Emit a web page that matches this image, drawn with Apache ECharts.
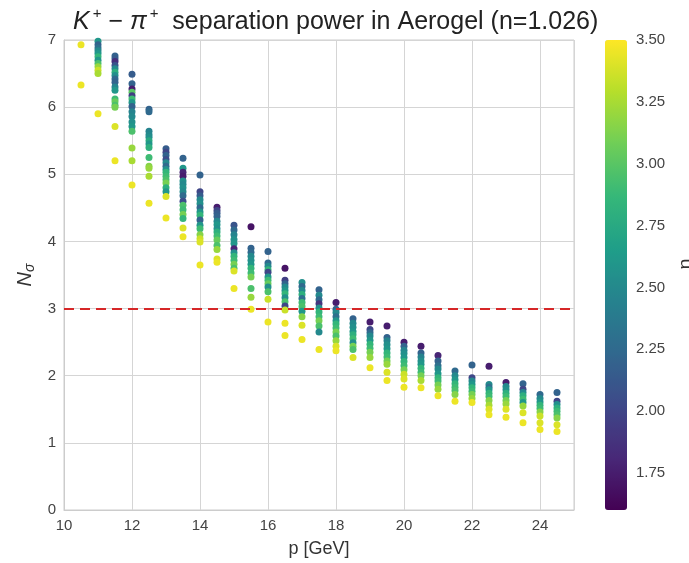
<!DOCTYPE html>
<html>
<head>
<meta charset="utf-8">
<script src="https://cdn.jsdelivr.net/npm/echarts@6/dist/echarts.min.js"></script>
<style>html,body{margin:0;padding:0;background:#fff}#c{width:689px;height:563px}</style>
</head>
<body>
<div id="c"></div>
<script>
// momentum columns (GeV)
const pColumns = [10.5, 11, 11.5, 12, 12.5, 13, 13.5, 14, 14.5, 15, 15.5, 16, 16.5, 17, 17.5, 18, 18.5, 19, 19.5, 20, 20.5, 21, 21.5, 22, 22.5, 23, 23.5, 24, 24.5];
// N_sigma values per column
const nsigmaByColumn = [
  [6.93, 6.33],
  [6.98, 6.93, 6.88, 6.84, 6.80, 6.75, 6.70, 6.65, 6.60, 6.55, 6.50, 5.90],
  [6.76, 6.72, 6.68, 6.62, 6.57, 6.52, 6.47, 6.42, 6.37, 6.30, 6.25, 6.12, 6.08, 6.03, 6.00, 5.71, 5.20],
  [6.49, 6.35, 6.27, 6.22, 6.17, 6.12, 6.07, 6.01, 5.93, 5.86, 5.78, 5.71, 5.64, 5.39, 5.20, 4.84],
  [5.97, 5.93, 5.64, 5.59, 5.55, 5.50, 5.45, 5.40, 5.25, 5.12, 5.09, 4.97, 4.57],
  [5.38, 5.33, 5.28, 5.22, 5.17, 5.12, 5.07, 5.03, 4.97, 4.92, 4.87, 4.80, 4.74, 4.67, 4.35],
  [5.24, 5.09, 5.03, 4.97, 4.90, 4.85, 4.80, 4.74, 4.68, 4.60, 4.54, 4.47, 4.40, 4.34, 4.20, 4.07],
  [4.99, 4.74, 4.68, 4.62, 4.56, 4.50, 4.44, 4.39, 4.32, 4.24, 4.19, 4.10, 4.04, 3.99, 3.65],
  [4.51, 4.46, 4.42, 4.37, 4.30, 4.25, 4.19, 4.14, 4.08, 4.02, 3.94, 3.88, 3.74, 3.69],
  [4.24, 4.17, 4.10, 4.03, 3.97, 3.89, 3.83, 3.78, 3.72, 3.66, 3.60, 3.56, 3.30],
  [4.22, 3.90, 3.84, 3.78, 3.72, 3.66, 3.60, 3.53, 3.47, 3.30, 3.17, 2.99],
  [3.85, 3.68, 3.63, 3.58, 3.54, 3.47, 3.42, 3.37, 3.32, 3.25, 3.14, 2.80],
  [3.60, 3.42, 3.37, 3.32, 3.27, 3.22, 3.16, 3.10, 3.04, 2.98, 2.78, 2.60],
  [3.39, 3.33, 3.27, 3.21, 3.15, 3.09, 3.03, 2.96, 2.88, 2.75, 2.54],
  [3.28, 3.20, 3.13, 3.07, 3.01, 2.95, 2.88, 2.82, 2.74, 2.65, 2.39],
  [3.09, 2.99, 2.94, 2.88, 2.82, 2.77, 2.71, 2.65, 2.59, 2.52, 2.44, 2.37],
  [2.85, 2.78, 2.72, 2.66, 2.61, 2.55, 2.49, 2.44, 2.39, 2.27],
  [2.80, 2.69, 2.64, 2.59, 2.53, 2.47, 2.41, 2.35, 2.27, 2.12],
  [2.74, 2.57, 2.52, 2.46, 2.40, 2.34, 2.28, 2.22, 2.17, 2.05, 1.93],
  [2.50, 2.44, 2.38, 2.33, 2.27, 2.21, 2.15, 2.09, 2.02, 1.95, 1.83],
  [2.44, 2.34, 2.28, 2.22, 2.17, 2.11, 2.05, 2.00, 1.93, 1.82],
  [2.30, 2.22, 2.15, 2.10, 2.03, 1.97, 1.92, 1.86, 1.80, 1.70],
  [2.07, 2.00, 1.94, 1.88, 1.83, 1.78, 1.72, 1.62],
  [2.16, 1.97, 1.92, 1.87, 1.82, 1.77, 1.72, 1.66, 1.60],
  [2.14, 1.87, 1.83, 1.79, 1.74, 1.69, 1.63, 1.56, 1.50, 1.42],
  [1.90, 1.84, 1.79, 1.74, 1.69, 1.63, 1.58, 1.50, 1.38],
  [1.88, 1.80, 1.75, 1.70, 1.65, 1.60, 1.55, 1.45, 1.30],
  [1.72, 1.66, 1.61, 1.56, 1.51, 1.46, 1.40, 1.30, 1.20],
  [1.75, 1.62, 1.57, 1.52, 1.47, 1.42, 1.37, 1.27, 1.17]
];
// eta (colour) values per column
const etaByColumn = [
  [3.45, 3.45],
  [2.60, 2.20, 2.30, 2.50, 2.60, 2.85, 2.60, 2.95, 3.20, 3.35, 3.25, 3.45],
  [2.20, 2.15, 1.85, 2.10, 2.50, 2.80, 2.55, 2.25, 2.20, 2.45, 2.60, 2.90, 3.05, 2.95, 3.10, 3.40, 3.45],
  [2.15, 2.20, 1.75, 3.00, 1.95, 2.90, 2.60, 2.20, 2.45, 2.50, 2.55, 2.60, 2.95, 3.20, 3.25, 3.45],
  [2.20, 2.25, 2.45, 2.50, 2.55, 2.75, 2.60, 2.80, 2.90, 3.15, 3.20, 3.25, 3.45],
  [2.15, 2.00, 2.20, 2.05, 2.50, 2.25, 2.55, 2.85, 2.90, 2.95, 3.10, 2.80, 2.60, 3.40, 3.45],
  [2.20, 2.60, 1.80, 1.75, 2.55, 2.50, 2.55, 2.50, 2.25, 2.05, 2.95, 2.90, 3.10, 2.85, 3.40, 3.45],
  [2.20, 2.00, 2.15, 2.50, 2.55, 2.25, 2.60, 2.85, 2.20, 2.60, 2.90, 3.15, 3.35, 3.40, 3.45],
  [1.75, 2.00, 2.15, 2.20, 2.50, 2.60, 2.55, 2.80, 2.90, 3.05, 2.95, 3.20, 3.40, 3.45],
  [2.10, 2.25, 2.45, 2.55, 2.60, 1.80, 2.55, 2.85, 2.90, 3.10, 2.95, 3.40, 3.45],
  [1.70, 2.20, 2.25, 2.50, 2.55, 2.60, 2.85, 2.90, 3.10, 2.95, 3.20, 3.45],
  [2.20, 2.25, 2.50, 2.85, 2.00, 2.60, 2.90, 3.05, 2.55, 2.95, 3.35, 3.45],
  [1.70, 1.95, 2.20, 2.50, 2.60, 2.85, 2.55, 2.95, 2.00, 3.35, 3.45, 3.45],
  [2.55, 2.25, 2.50, 2.80, 2.30, 2.90, 2.95, 2.60, 3.15, 3.40, 3.45],
  [2.20, 2.50, 2.25, 1.90, 2.55, 2.85, 2.90, 3.10, 2.95, 2.50, 3.45],
  [1.75, 2.20, 2.50, 2.30, 2.60, 2.85, 2.90, 3.10, 2.95, 3.20, 3.40, 3.45],
  [2.20, 2.50, 2.55, 2.60, 2.80, 2.90, 2.55, 3.10, 2.95, 3.40],
  [1.75, 2.00, 2.25, 2.50, 2.60, 2.85, 2.90, 3.10, 3.20, 3.45],
  [1.75, 2.20, 2.45, 2.55, 2.60, 2.85, 2.90, 3.10, 3.20, 3.40, 3.45],
  [1.75, 2.20, 2.45, 2.55, 2.60, 2.85, 2.90, 3.10, 3.35, 3.40, 3.45],
  [1.75, 2.20, 2.45, 2.55, 2.60, 2.85, 2.90, 3.10, 3.25, 3.45],
  [1.80, 2.20, 2.30, 2.50, 2.60, 2.85, 2.90, 3.10, 3.20, 3.45],
  [2.25, 2.50, 2.60, 2.85, 2.90, 2.95, 3.15, 3.45],
  [2.20, 2.00, 2.50, 2.60, 2.85, 2.90, 3.10, 3.20, 3.45],
  [1.75, 2.50, 2.30, 2.60, 2.85, 2.90, 3.15, 3.25, 3.40, 3.45],
  [1.75, 2.50, 2.55, 2.80, 2.90, 3.10, 3.20, 3.40, 3.45],
  [2.20, 2.00, 2.50, 2.80, 2.90, 2.60, 3.20, 3.40, 3.45],
  [2.25, 2.50, 2.60, 2.85, 2.90, 3.15, 3.35, 3.40, 3.45],
  [2.20, 2.00, 2.55, 2.80, 2.90, 2.95, 3.15, 3.40, 3.45]
];
const xTicks = [10, 12, 14, 16, 18, 20, 22, 24];
const colorbarTicks = [1.75, 2.00, 2.25, 2.50, 2.75, 3.00, 3.25, 3.50];
const etaRange = [1.6, 3.5];
const threshold = 3;
const viridis = ['#440154','#482878','#3e4989','#31688e','#26828e','#1f9e89','#35b779','#6ece58','#b5de2b','#fde725'];

const points = [];
pColumns.forEach((p, i) => {
  nsigmaByColumn[i].forEach((v, j) => points.push([p, v, etaByColumn[i][j]]));
});

const FONT = 'Liberation Sans';
const chart = echarts.init(document.getElementById('c'), null, {renderer: 'canvas'});
chart.setOption({
  backgroundColor: '#fff',
  animation: false,
  textStyle: {fontFamily: FONT},
  title: {
    text: '{i|K}{s|+}{n| − }{i|π}{s|+}{n|  separation power in Aerogel (n=1.026)}',
    left: 68, top: 1,
    textStyle: {
      fontWeight: 'normal',
      rich: {
        i: {fontFamily: FONT, fontSize: 25, fontStyle: 'italic', fontWeight: 'normal', color: '#222', lineHeight: 33},
        s: {fontFamily: FONT, fontSize: 15, fontWeight: 'normal', color: '#222', verticalAlign: 'top', lineHeight: 33, padding: [0, 0, 0, 3]},
        n: {fontFamily: FONT, fontSize: 25, fontWeight: 'normal', color: '#222', lineHeight: 33}
      }
    }
  },
  grid: [
    {left: 64, right: 115, top: 40, bottom: 53, show: true, borderColor: '#cccccc', borderWidth: 1},
    {left: 605, width: 22, top: 40, height: 470, show: false}
  ],
  xAxis: [{
    type: 'value', min: 10, max: 25, interval: 2, gridIndex: 0,
    name: 'p [GeV]', nameLocation: 'middle', nameGap: 30,
    nameTextStyle: {fontSize: 18, color: '#333', fontFamily: FONT},
    axisLine: {show: true, lineStyle: {color: '#cccccc'}},
    axisTick: {show: false},
    axisLabel: {fontSize: 15, color: '#444', margin: 8, showMaxLabel: false},
    splitLine: {show: true, lineStyle: {color: '#d5d5d5', width: 1}}
  }, {
    type: 'value', gridIndex: 1, show: false, min: 0, max: 1
  }],
  yAxis: [{
    type: 'value', min: 0, max: 7, interval: 1, gridIndex: 0,
    name: '{n|N}{sub|σ}', nameLocation: 'middle', nameGap: 24, nameRotate: 90,
    nameTextStyle: {rich: {
      n: {fontFamily: FONT, fontSize: 20, fontStyle: 'italic', color: '#333'},
      sub: {fontFamily: FONT, fontSize: 14, fontStyle: 'italic', color: '#333', verticalAlign: 'bottom', padding: [8, 0, 0, 0]}
    }},
    axisLine: {show: true, lineStyle: {color: '#cccccc'}},
    axisTick: {show: false},
    axisLabel: {fontSize: 15, color: '#444', margin: 8},
    splitLine: {show: true, lineStyle: {color: '#d5d5d5', width: 1}}
  }, {
    type: 'value', gridIndex: 1, position: 'right', min: etaRange[0], max: etaRange[1],
    axisLine: {show: false}, axisTick: {show: false}, splitLine: {show: false},
    axisLabel: {fontSize: 15, color: '#444', margin: 9, customValues: colorbarTicks,
      formatter: v => Number(v).toFixed(2)}
  }],
  visualMap: {
    type: 'continuous', dimension: 2, seriesIndex: 0,
    min: etaRange[0], max: etaRange[1],
    left: 605, top: 40, itemWidth: 22, itemHeight: 470, padding: 0,
    calculable: false, text: null, orient: 'vertical',
    inRange: {color: viridis}
  },
  series: [{
    type: 'scatter', xAxisIndex: 0, yAxisIndex: 0,
    data: points, symbol: 'circle', symbolSize: 7,
    itemStyle: {opacity: 1},
    markLine: {
      silent: true, symbol: 'none', label: {show: false},
      lineStyle: {color: '#d62728', type: [10, 6], width: 2},
      data: [{yAxis: threshold}]
    }
  }],
  graphic: [{
    type: 'text', x: 676, y: 264, rotation: Math.PI / 2,
    style: {text: 'η', fontSize: 20, fontFamily: FONT, fill: '#333', textAlign: 'center', textVerticalAlign: 'top'}
  }]
});
</script>
</body>
</html>
